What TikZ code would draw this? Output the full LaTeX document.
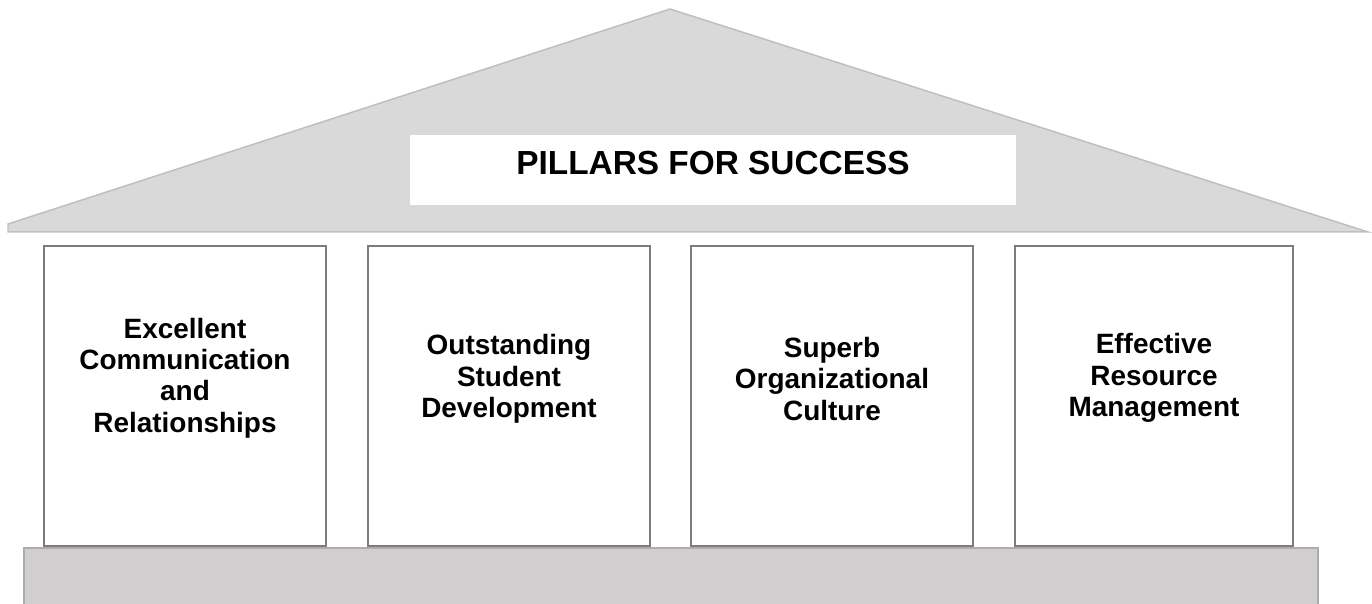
\documentclass[tikz,border=0pt]{standalone}
\usepackage{fontspec}
\setmainfont{Liberation Sans}
\definecolor{rooffill}{HTML}{D9D9D9}
\definecolor{roofline}{HTML}{BFBFBF}
\definecolor{basefill}{HTML}{D0CECE}
\definecolor{baseedge}{HTML}{AFABAB}
\definecolor{pillarline}{HTML}{7F7B7B}
\tikzset{
  pillar/.style={draw=pillarline, line width=0.2mm, fill=white, minimum width=28.2mm, minimum height=30mm, inner sep=0pt},
  pillartext/.style={align=center, font=\fontsize{7.95}{8.95}\selectfont\bfseries},
  titlebox/.style={fill=white, minimum width=60.6mm, minimum height=7mm},
  titletext/.style={font=\fontsize{9.5}{11}\selectfont\bfseries}
}
\begin{document}
\begin{tikzpicture}[x=0.1mm,y=-0.1mm]
			\useasboundingbox (0,0) rectangle (1372,604);
			\begin{scope}
			\clip (0,0) rectangle (1372,604);
			% roof
			\draw[draw=roofline, fill=rooffill, line width=0.15mm] (8,224) -- (670,9) -- (1368,232) -- (8,232) -- cycle;
			\node[titlebox] (title) at (713,170) {};
			\node[titletext] (titletext) at (713,163) {PILLARS FOR SUCCESS};
			% base
			\draw[draw=baseedge, fill=basefill, line width=0.2mm] (24,548) rectangle (1318,640);
			\end{scope}
			% pillars
			\node[pillar] (p1) at (185,396) {};
			\node[pillar] (p2) at (509,396) {};
			\node[pillar] (p3) at (832,396) {};
			\node[pillar, minimum width=27.8mm] (p4) at (1154,396) {};
			\node[pillartext] (comm) at (185,378) {Excellent\\Communication\\and\\Relationships};
			\node[pillartext] (student) at (509,379) {Outstanding\\Student\\Development};
			\node[pillartext] (culture) at (832,379) {Superb\\Organizational\\Culture};
			\node[pillartext] (resource) at (1154,378) {Effective\\Resource\\Management};
		\end{tikzpicture}
\end{document}
